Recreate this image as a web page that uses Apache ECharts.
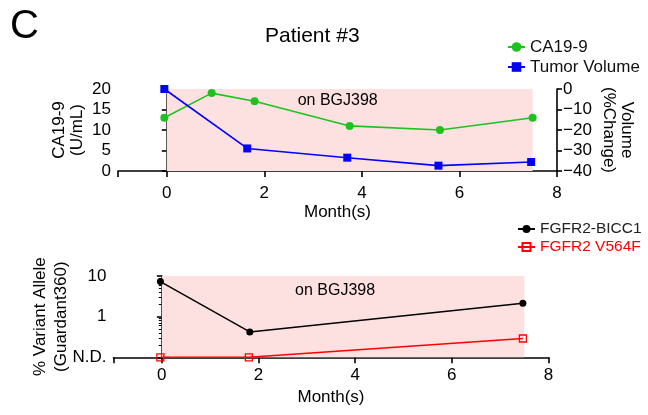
<!DOCTYPE html>
<html>
<head>
<meta charset="utf-8">
<script src="https://cdn.jsdelivr.net/npm/echarts@6/dist/echarts.min.js"></script>
<style>
html,body{margin:0;padding:0;background:#fff;}
#chart{width:648px;height:415px;}
</style>
</head>
<body>
<div id="chart"></div>
<script>
// ---- data ----
var caMonths = [-0.05, 0.92, 1.80, 3.75, 5.60, 7.50];
var ca199 = [13, 19, 17, 11, 10, 13];
var tvMonths = [-0.05, 1.65, 3.70, 5.57, 7.47];
var tumorVolume = [0, -29, -33.5, -37.4, -35.6];
var gMonths = [-0.03, 1.82, 7.47];
var bicc1 = [7.3, 0.42, 2.14];
var v564fMonths = [-0.03, 1.80, 7.47];
var v564f = [0.1, 0.1, 0.29]; // 0.1 = N.D.
var treatStart = 0, treatEnd = 7.5;
var xTicks = [0, 2, 4, 6, 8];

function pairs(xs, ys) { return xs.map(function (x, i) { return [x, ys[i]]; }); }

var FONT = 'Liberation Sans, Arial, sans-serif';
var axisLineStyle = { color: '#000', width: 1.6 };

var chart = echarts.init(document.getElementById('chart'), null, { renderer: 'canvas' });

var option = {
  backgroundColor: '#fff',
  animation: false,
  textStyle: { fontFamily: FONT },
  title: [
    { text: 'C', left: 5, top: 2, textStyle: { fontSize: 40, fontWeight: 'normal', color: '#000', fontFamily: FONT } },
    { text: 'Patient #3', left: 260, top: 21, textStyle: { fontSize: 21, fontWeight: 'normal', color: '#000', fontFamily: FONT } }
  ],
  legend: [
    {
      data: [{ name: 'CA19-9' }, { name: 'Tumor Volume' }],
      orient: 'vertical', left: 502, top: 32, itemWidth: 17, itemHeight: 12, itemGap: 0,
      textStyle: { fontSize: 17, color: '#111', fontFamily: FONT, lineHeight: 20 }
    },
    {
      data: [{ name: 'FGFR2-BICC1', textStyle: { color: '#222' } }, { name: 'FGFR2 V564F', textStyle: { color: '#ff0000' } }],
      orient: 'vertical', left: 512, top: 215, itemWidth: 17, itemHeight: 10, itemGap: 0,
      textStyle: { fontSize: 15.5, fontFamily: FONT, lineHeight: 18 }
    }
  ],
  grid: [
    { left: 118, top: 89, width: 439, height: 82 },
    { left: 113.5, top: 276, width: 435, height: 81.3 }
  ],
  xAxis: [
    {
      gridIndex: 0, type: 'value', min: -1, max: 8,
      name: 'Month(s)', nameLocation: 'middle', nameGap: 33,
      nameTextStyle: { fontSize: 17, color: '#000', fontFamily: FONT },
      axisLine: { show: true, onZero: false, lineStyle: axisLineStyle },
      axisTick: { show: true, length: 6, lineStyle: axisLineStyle },
      axisLabel: { fontSize: 17, color: '#000', margin: 14, fontFamily: FONT,
        formatter: function (v) { return xTicks.indexOf(v) >= 0 ? String(v) : ''; } },
      splitLine: { show: false }
    },
    {
      gridIndex: 1, type: 'value', min: -1, max: 8,
      name: 'Month(s)', nameLocation: 'middle', nameGap: 32,
      nameTextStyle: { fontSize: 17, color: '#000', fontFamily: FONT },
      axisLine: { show: true, onZero: false, lineStyle: axisLineStyle },
      axisTick: { show: true, length: 6, lineStyle: axisLineStyle },
      axisLabel: { fontSize: 17, color: '#000', margin: 10, fontFamily: FONT,
        formatter: function (v) { return xTicks.indexOf(v) >= 0 ? String(v) : ''; } },
      splitLine: { show: false }
    }
  ],
  yAxis: [
    {
      gridIndex: 0, type: 'value', min: 0, max: 20, interval: 5, position: 'left',
      name: 'CA19-9\n(U/mL)', nameLocation: 'middle', nameRotate: 90, nameGap: 32, nameMoveOverlap: false,
      nameTextStyle: { fontSize: 17, color: '#000', lineHeight: 18, fontFamily: FONT },
      axisLine: { show: true, lineStyle: axisLineStyle },
      axisTick: { show: true, length: 5, lineStyle: axisLineStyle },
      axisLabel: { fontSize: 17, color: '#000', margin: 7, fontFamily: FONT },
      splitLine: { show: false }
    },
    {
      gridIndex: 0, type: 'value', min: -40, max: 0, interval: 10, position: 'right',
      name: 'Volume\n(%Change)', nameLocation: 'middle', nameRotate: -90, nameGap: 43, nameMoveOverlap: false,
      nameTextStyle: { fontSize: 17, color: '#000', lineHeight: 18, fontFamily: FONT },
      axisLine: { show: true, lineStyle: axisLineStyle },
      axisTick: { show: true, length: 5, lineStyle: axisLineStyle },
      axisLabel: { fontSize: 17, color: '#000', margin: 6, fontFamily: FONT,
        formatter: function (v) { return String(v).replace('-', '\u2212'); } },
      splitLine: { show: false }
    },
    {
      gridIndex: 1, type: 'log', logBase: 10, min: 0.1, max: 10, position: 'left',
      name: '% Variant Allele\n(Guardant360)', nameLocation: 'middle', nameRotate: 90, nameGap: 42, nameMoveOverlap: false,
      nameTextStyle: { fontSize: 17, color: '#000', lineHeight: 21, fontFamily: FONT },
      axisLine: { show: true, lineStyle: axisLineStyle },
      axisTick: { show: true, length: 5, lineStyle: axisLineStyle },
      minorTick: { show: true, splitNumber: 9, length: 3, lineStyle: { color: '#000', width: 1 } },
      axisLabel: { fontSize: 17, color: '#000', margin: 7, fontFamily: FONT,
        formatter: function (v) { return v < 0.5 ? 'N.D.' : String(Math.round(v)); } },
      splitLine: { show: false }
    }
  ],
  series: [
    {
      name: 'CA19-9', type: 'line', xAxisIndex: 0, yAxisIndex: 0, z: 3,
      data: pairs(caMonths, ca199), clip: false,
      symbol: 'circle', symbolSize: 8,
      lineStyle: { color: '#1ec21e', width: 1.6 },
      itemStyle: { color: '#1ec21e' },
      markArea: {
        silent: true, itemStyle: { color: '#fde0e0' },
        label: { show: true, position: 'insideTop', offset: [-12, 0], distance: 4, color: '#000', fontSize: 16, fontFamily: FONT },
        data: [[{ name: 'on BGJ398', xAxis: treatStart, yAxis: 0 }, { xAxis: treatEnd, yAxis: 20 }]]
      }
    },
    {
      name: 'Tumor Volume', type: 'line', xAxisIndex: 0, yAxisIndex: 1, z: 3,
      data: pairs(tvMonths, tumorVolume), clip: false,
      symbol: 'rect', symbolSize: 8,
      lineStyle: { color: '#0000ff', width: 1.6 },
      itemStyle: { color: '#0000ff' }
    },
    {
      name: 'FGFR2-BICC1', type: 'line', xAxisIndex: 1, yAxisIndex: 2, z: 3,
      data: pairs(gMonths, bicc1), clip: false,
      symbol: 'circle', symbolSize: 7,
      lineStyle: { color: '#000', width: 1.5 },
      itemStyle: { color: '#000' },
      markArea: {
        silent: true, itemStyle: { color: '#fde0e0' },
        label: { show: true, position: 'insideTop', offset: [-8, 3], distance: 4, color: '#000', fontSize: 16, fontFamily: FONT },
        data: [[{ name: 'on BGJ398', xAxis: treatStart, yAxis: 0.1 }, { xAxis: treatEnd, yAxis: 10 }]]
      }
    },
    {
      name: 'FGFR2 V564F', type: 'line', xAxisIndex: 1, yAxisIndex: 2, z: 4,
      data: pairs(v564fMonths, v564f), clip: false,
      symbol: 'rect', symbolSize: 7,
      lineStyle: { color: '#ff0000', width: 1.5 },
      itemStyle: { color: 'rgba(0,0,0,0)', borderColor: '#ff0000', borderWidth: 1.3 }
    }
  ]
};
chart.setOption(option);
</script>
</body>
</html>
